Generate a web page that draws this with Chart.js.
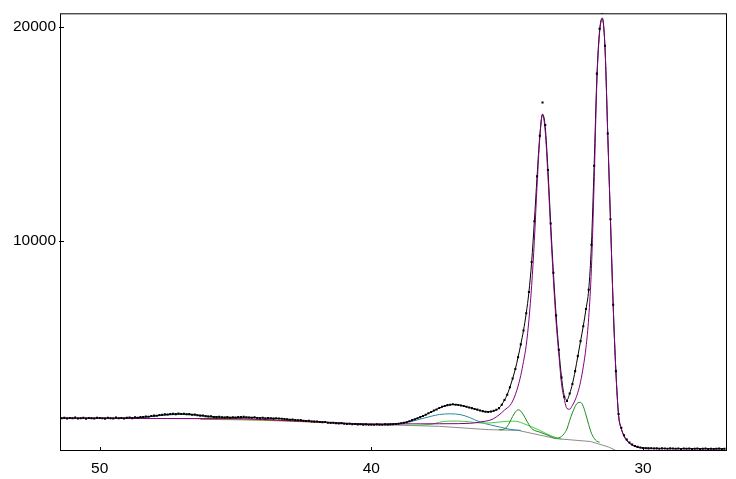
<!DOCTYPE html>
<html><head><meta charset="utf-8">
<script src="https://cdn.jsdelivr.net/npm/chart.js@4.4.1/dist/chart.umd.min.js"></script>
<style>html,body{margin:0;padding:0;background:#fff}canvas{display:block}</style>
</head><body>
<canvas id="c" width="736" height="479"></canvas>
<script>
// ---- tick labels ----
const xTicks = [50, 40, 30];
const yTicks = [10000, 20000];

// ---- observed points ----
const obsX = [
51.4,51.3,51.2,51.1,51.0,50.9,50.8,50.7,50.6,50.5,
50.4,50.3,50.2,50.1,50.0,49.9,49.8,49.7,49.6,49.5,
49.4,49.3,49.2,49.1,49.0,48.9,48.8,48.7,48.6,48.5,
48.4,48.3,48.2,48.1,48.0,47.9,47.8,47.7,47.6,47.5,
47.4,47.3,47.2,47.1,47.0,46.9,46.8,46.7,46.6,46.5,
46.4,46.3,46.2,46.1,46.0,45.9,45.8,45.7,45.6,45.5,
45.4,45.3,45.2,45.1,45.0,44.9,44.8,44.7,44.6,44.5,
44.4,44.3,44.2,44.1,44.0,43.9,43.8,43.7,43.6,43.5,
43.4,43.3,43.2,43.1,43.0,42.9,42.8,42.7,42.6,42.5,
42.4,42.3,42.2,42.1,42.0,41.9,41.8,41.7,41.6,41.5,
41.4,41.3,41.2,41.1,41.0,40.9,40.8,40.7,40.6,40.5,
40.4,40.3,40.2,40.1,40.0,39.9,39.8,39.7,39.6,39.5,
39.4,39.3,39.2,39.1,39.0,38.9,38.8,38.7,38.6,38.5,
38.4,38.3,38.2,38.1,38.0,37.9,37.8,37.7,37.6,37.5,
37.4,37.3,37.2,37.1,37.0,36.9,36.8,36.7,36.6,36.5,
36.4,36.3,36.2,36.1,36.0,35.9,35.8,35.7,35.6,35.5,
35.4,35.3,35.2,35.1,35.0,34.9,34.8,34.7,34.6,34.5,
34.4,34.3,34.2,34.1,34.0,33.9,33.8,33.7,33.6,33.5,
33.4,33.3,33.2,33.1,33.0,32.9,32.8,32.7,32.6,32.5,
32.4,32.3,32.2,32.1,32.0,31.9,31.8,31.7,31.6,31.5,
31.4,31.3,31.2,31.1,31.0,30.9,30.8,30.7,30.6,30.5,
30.4,30.3,30.2,30.1,30.0,29.9,29.8,29.7,29.6,29.5,
29.4,29.3,29.2,29.1,29.0,28.9,28.8,28.7,28.6,28.5,
28.4,28.3,28.2,28.1,28.0,27.9,27.8,27.7,27.6,27.5,
27.4,27.3,27.2,27.1,27.0];
const obsY = [
1700,1720,1690,1710,1700,1730,1690,1700,1720,1680,
1710,1700,1690,1720,1710,1700,1680,1720,1700,1690,
1730,1700,1710,1690,1720,1730,1700,1740,1720,1750,
1760,1780,1770,1800,1820,1810,1850,1860,1880,1870,
1900,1910,1890,1920,1900,1910,1880,1890,1860,1870,
1840,1820,1830,1790,1780,1790,1760,1750,1770,1740,
1730,1750,1720,1740,1730,1760,1750,1770,1740,1730,
1720,1740,1710,1700,1720,1690,1710,1700,1680,1700,
1690,1670,1660,1650,1630,1640,1610,1600,1610,1580,
1570,1580,1550,1540,1550,1520,1510,1520,1490,1480,
1490,1460,1450,1470,1440,1430,1440,1420,1430,1410,
1420,1400,1410,1390,1400,1390,1410,1400,1390,1410,
1400,1410,1420,1430,1440,1460,1490,1510,1560,1610,
1650,1700,1750,1800,1860,1930,1990,2060,2110,2180,
2230,2270,2310,2330,2350,2330,2320,2290,2270,2230,
2200,2170,2130,2100,2060,2030,2000,1990,2010,2050,
2090,2170,2330,2550,2800,3150,3550,4000,4550,5150,
5800,6600,7600,9000,10900,13000,14900,16450,15400,13300,
10800,8500,6500,4900,3600,2700,2500,2850,3300,3900,
4600,5300,6000,6800,7700,9800,13500,17800,19900,20650,
19100,15000,11000,7000,3900,1900,1250,900,700,560,
470,400,360,330,310,300,290,300,280,290,
270,290,280,270,290,280,270,280,260,280,
270,280,260,270,280,260,270,280,260,270,
260,270,280,260,270];

// ---- total fit (black) ----
const fitX = [51.5,50.5,49.5,48.8,48.3,47.9,47.5,47.1,46.7,46.3,45.9,45.5,45.0,44.6,44.2,43.8,43.4,43.0,42.5,42.0,41.5,41.0,40.5,40.0,39.5,39.2,39.0,38.8,38.6,38.4,38.2,38.0,37.8,37.6,37.4,37.2,37.0,36.8,36.6,36.4,36.2,36.0,35.8,35.6,35.4,
35.3,35.2,35.1,35.0,34.9,34.8,34.7,34.6,34.5,34.4,34.3,34.2,34.1,34.0,33.9,33.8,33.7,33.6,33.5,33.4,33.3,33.2,33.1,33.0,32.9,32.8,32.7,32.6,32.5,32.4,32.3,32.2,32.1,32.0,31.9,31.8,31.7,31.6,31.5,31.4,31.3,31.2,31.1,31.0,30.9,30.8,30.7,30.6,30.5,30.4,30.3,30.2,
30.0,29.5,29.0,28.0,27.0];
const fitY = [1705,1705,1705,1715,1760,1820,1875,1900,1885,1830,1780,1745,1735,1745,1720,1700,1685,1640,1585,1545,1490,1445,1415,1400,1400,1420,1440,1485,1555,1650,1750,1860,1990,2110,2230,2300,2340,2320,2270,2200,2130,2060,2000,2000,2090,
2170,2330,2550,2800,3150,3550,4000,4550,5150,5800,6600,7600,9000,10900,13000,14900,15900,15300,13300,10800,8500,6500,4900,3600,2750,2550,2850,3300,3900,4600,5300,6000,6800,7700,9800,13500,17600,19800,20400,19000,15000,11000,7000,3900,1850,1220,880,690,550,460,390,350,
310,290,280,275,270];

// ---- main peaks (purple) ----
const purpX = [51.5,50.5,49.5,48.5,47.5,46.5,45.5,44.5,43.5,42.5,41.5,40.5,39.5,38.5,37.5,36.8,36.4,36.2,36.0,35.8,35.6,35.4,35.2,35.1,35.0,
34.9,34.8,34.7,34.6,34.5,34.4,34.3,34.2,34.1,34.0,33.9,33.8,33.7,33.6,33.5,33.4,33.3,33.2,33.1,33.0,32.9,32.8,32.7,32.6,32.5,32.4,32.3,32.2,32.1,32.0,31.9,31.8,31.7,31.6,31.5,31.4,31.3,31.2,31.1,31.0,30.9,30.8,30.7,30.6,30.5,30.4,30.3,30.2,
30.0,29.5,29.0,28.0,27.0];
const purpY = [1695,1692,1690,1688,1685,1682,1680,1665,1610,1555,1500,1445,1430,1435,1440,1445,1460,1480,1520,1560,1620,1760,1960,2080,2180,
2290,2500,2800,3200,3700,4350,5100,6300,7900,10000,12600,14800,15900,15100,13000,10500,8200,6200,4700,3300,2600,2150,2120,2300,2550,2900,3400,4100,5000,6400,8700,12700,17400,19700,20350,19000,15000,11000,7000,3900,1800,1200,850,650,520,440,380,340,
300,285,280,275,270];

// ---- baseline (grey) ----
const baseX = [51.5,44.8,40.07,37.5,35.7,34.6,33.2,31.93,31.27,31.0,30.8,27.0];
const baseY = [1695,1675,1410,1320,1165,1130,745,610,355,190,100,100];

// ---- broad components (teal) ----
const tealX = [49.3,48.9,48.5,48.1,47.7,47.3,47.0,46.7,46.3,45.9,45.5,45.1,44.8,42.0,39.6,39.3,38.9,38.5,38.1,37.8,37.5,37.1,36.7,36.4,36.0,35.6,35.25,34.9,34.5];
const tealY = [1690,1700,1730,1780,1830,1865,1880,1865,1815,1745,1700,1680,1675,null,1410,1435,1470,1560,1690,1790,1870,1905,1860,1740,1520,1380,1280,1180,1130];

// ---- light green component ----
const lgX = [38.6,38.2,37.9,37.7,37.5,37.3,37.0,36.6,36.2,35.9,35.6,35.3,35.0,34.8,34.6,34.4,34.1,33.8,33.5,33.2,33.0];
const lgY = [1360,1370,1400,1440,1510,1550,1565,1555,1500,1470,1480,1520,1555,1560,1540,1450,1300,1130,940,790,720];

// ---- dark green component ----
const dgX = [35.3,35.2,35.1,35.0,34.9,34.8,34.7,34.6,34.5,34.4,34.3,34.2,34.1,34.0,33.8,33.5,33.3,33.2,33.1,33.0,32.9,32.8,32.7,32.6,32.5,32.4,32.3,32.2,32.1,32.0,31.9,31.8,31.7,31.6];
const dgY = [1160,1160,1200,1310,1530,1780,1990,2090,2030,1850,1620,1400,1220,1130,1050,900,790,760,780,850,980,1200,1600,1950,2250,2420,2440,2250,1850,1400,1000,760,620,580];

// ---- olive component ----
const olX = [46.3,45.5,44.8,44.0,43.0,42.0,41.5];
const olY = [1650,1635,1625,1600,1560,1510,1480];

function pts(xs, ys) { return xs.map((x, i) => ({x: x, y: ys[i]})); }
function line(label, xs, ys, color, order, mono) {
  return {label, data: pts(xs, ys), showLine: true, borderColor: color, borderWidth: 1,
    pointRadius: 0, pointHoverRadius: 0, order: order,
    cubicInterpolationMode: mono ? 'monotone' : 'default', tension: 0, spanGaps: false};
}

const FONT = {family: "'Liberation Sans', Arial, sans-serif", size: 15.5};

const framePlugin = {
  id: 'frame',
  afterDatasetsDraw(chart) {
    const {ctx, chartArea: a, scales} = chart;
    ctx.save();
    ctx.strokeStyle = '#000';
    ctx.lineWidth = 1;
    ctx.strokeRect(a.left + 0.5, a.top + 0.5, a.right - a.left - 1, a.bottom - a.top - 1);
    ctx.beginPath();
    xTicks.forEach(v => {
      const px = Math.round(scales.x.getPixelForValue(v)) + 0.5;
      ctx.moveTo(px, a.bottom); ctx.lineTo(px, a.bottom - 4);
    });
    yTicks.forEach(v => {
      const py = Math.round(scales.y.getPixelForValue(v)) + 0.5;
      ctx.moveTo(a.left - 1, py); ctx.lineTo(a.left + 4, py);
    });
    ctx.stroke();
    ctx.restore();
  }
};

new Chart(document.getElementById('c'), {
  type: 'scatter',
  data: {
    datasets: [
      {label: 'observed', data: pts(obsX, obsY), showLine: false, pointStyle: 'rect',
       pointRadius: 1.45, pointBorderWidth: 0, backgroundColor: '#000', borderColor: '#000', order: 0},
      line('peaks', purpX, purpY, '#800080', 1, true),
      line('fit', fitX, fitY, '#000000', 2, true),
      line('comp4', dgX, dgY, '#1c8a1c', 3, true),
      line('comp3', lgX, lgY, '#3fcf3f', 4, true),
      line('comp2', tealX, tealY, '#2a8aa0', 5, true),
      line('comp5', olX, olY, '#8a8a1c', 6, true),
      line('baseline', baseX, baseY, '#8c8c8c', 7, false)
    ]
  },
  options: {
    responsive: false,
    animation: false,
    devicePixelRatio: 1,
    events: [],
    layout: {padding: {top: 11, right: 9, left: 0, bottom: 0}},
    plugins: {legend: {display: false}, tooltip: {enabled: false}},
    scales: {
      x: {
        type: 'linear', reverse: true, min: 26.91, max: 51.46,
        afterBuildTicks: s => { s.ticks = xTicks.map(v => ({value: v})); },
        afterFit: s => { s.height = 28; },
        grid: {drawOnChartArea: false, drawTicks: false},
        border: {display: false},
        ticks: {color: '#000', font: FONT, padding: 8, maxRotation: 0, autoSkip: false,
                callback: v => String(v)}
      },
      y: {
        type: 'linear', min: 167, max: 20619,
        afterBuildTicks: s => { s.ticks = yTicks.map(v => ({value: v})); },
        afterFit: s => { s.width = 60; },
        grid: {drawOnChartArea: false, drawTicks: false},
        border: {display: false},
        ticks: {color: '#000', font: FONT, padding: 4, autoSkip: false,
                callback: v => String(v)}
      }
    }
  },
  plugins: [framePlugin]
});
</script>
</body></html>
